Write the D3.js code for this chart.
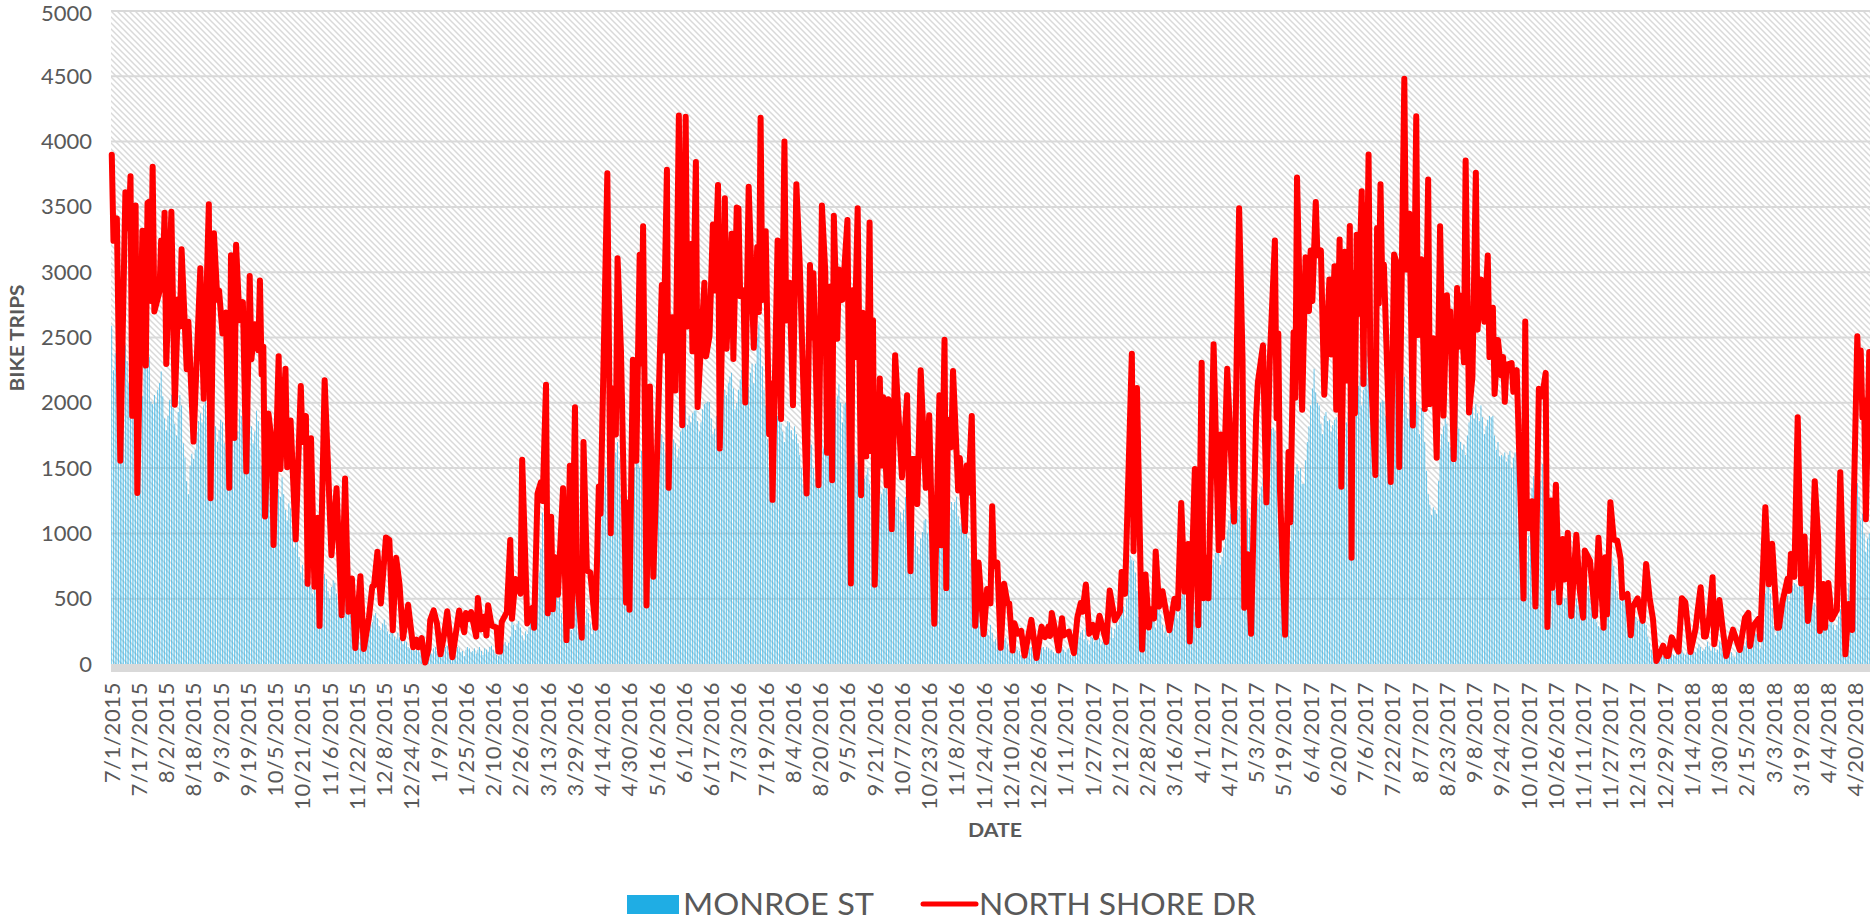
<!DOCTYPE html>
<html lang="en">
<head>
<meta charset="UTF-8">
<title>Bike trips</title>
<script src="https://cdnjs.cloudflare.com/ajax/libs/d3/7.8.5/d3.min.js"></script>
<style>
  html, body { margin: 0; padding: 0; background: #fff; overflow: hidden; }
  text { font-family: Lato, "Noto Sans", sans-serif; fill: #595959; }
</style>
</head>
<body>
<div id="chart"></div>
<script>
// data
const yTicks = [0, 500, 1000, 1500, 2000, 2500, 3000, 3500, 4000, 4500, 5000];
const dayCount = 1033; // 7/1/2015 onward, one slot per day

const dateLabels = ["7/1/2015","7/17/2015","8/2/2015","8/18/2015","9/3/2015","9/19/2015","10/5/2015","10/21/2015","11/6/2015","11/22/2015","12/8/2015","12/24/2015","1/9/2016","1/25/2016","2/10/2016","2/26/2016","3/13/2016","3/29/2016","4/14/2016","4/30/2016","5/16/2016","6/1/2016","6/17/2016","7/3/2016","7/19/2016","8/4/2016","8/20/2016","9/5/2016","9/21/2016","10/7/2016","10/23/2016","11/8/2016","11/24/2016","12/10/2016","12/26/2016","1/11/2017","1/27/2017","2/12/2017","2/28/2017","3/16/2017","4/1/2017","4/17/2017","5/3/2017","5/19/2017","6/4/2017","6/20/2017","7/6/2017","7/22/2017","8/7/2017","8/23/2017","9/8/2017","9/24/2017","10/10/2017","10/26/2017","11/11/2017","11/27/2017","12/13/2017","12/29/2017","1/14/2018","1/30/2018","2/15/2018","3/3/2018","3/19/2018","4/4/2018","4/20/2018"];
const labelDays = [0,16,32,48,64,80,96,112,128,144,160,176,192,208,224,240,256,272,288,304,320,336,352,368,384,400,416,432,448,464,480,496,512,528,544,560,576,592,608,624,640,656,672,688,704,720,736,752,768,784,800,816,832,848,864,880,896,912,928,944,960,976,992,1008,1024];

// Monroe St, one value per day
const monroeTrips = [
2590,2250,2380,2300,2100,1950,2240,2360,2440,2320,2150,2000,2230,2280,2390,2410,2300,2200,2050,2310,
2450,2600,2350,2010,1990,2060,2000,2100,2150,2240,2050,1880,1790,1900,2020,2060,1960,1840,1750,1930,
2060,1980,1690,1580,1400,1300,1520,1610,1570,1640,1780,1860,1920,1850,1980,2020,1900,1760,1840,1870,
1930,1820,1700,1790,1870,1850,1690,1640,1780,1890,1940,2030,1890,1720,1780,1950,1900,1830,1700,1760,
1880,1950,1820,1690,1780,1940,1860,1640,1520,1600,1430,1380,1500,1470,1350,1260,1390,1420,1340,1280,
1430,1300,1180,1100,1230,1190,1050,890,980,940,820,700,760,650,640,720,680,600,540,620,
680,640,590,530,600,690,650,560,500,590,640,620,540,480,560,690,600,520,450,480,
530,460,400,370,440,470,410,360,300,340,380,400,360,320,370,390,350,290,260,310,
340,300,250,230,280,260,210,190,240,205,180,150,190,170,130,120,150,140,100,110,
130,90,70,60,100,120,140,110,80,120,130,100,70,50,90,110,130,140,90,70,
50,80,110,130,120,90,100,60,110,130,120,90,100,120,80,110,130,100,70,120,
110,90,130,140,110,80,70,60,90,130,150,170,140,160,210,340,300,260,310,330,
280,220,180,250,230,280,320,290,340,430,520,700,880,1160,950,640,480,510,590,610,
440,520,480,620,390,300,210,340,450,380,260,400,620,480,540,560,450,220,300,420,
390,310,230,480,620,780,900,1050,1220,1350,1500,1620,1400,1060,1300,1500,1620,1700,1560,1300,
1180,920,760,700,880,1100,1340,1500,1650,1580,1500,1630,1480,850,960,1200,1350,1280,1060,1300,
1450,1600,1810,1760,1700,1620,1500,1380,1560,1650,1720,1690,1580,1650,1780,1900,1960,1980,1830,1900,
1850,1920,1940,1940,1860,1780,1850,1950,1990,2000,2010,2005,1880,1760,1800,1900,1960,1720,1800,2030,
2100,2060,2150,2200,2230,2110,1950,2000,2100,2180,2250,2200,2060,2000,2120,2230,2300,2150,2300,2500,
2600,2420,2280,2100,1980,1720,1500,1320,1600,1780,1860,1900,1950,1840,1780,1700,1820,1860,1850,1790,
1720,1820,1760,1690,1600,1500,1380,1420,1560,1650,1720,1680,1500,1420,1580,1700,1800,1720,1650,1700,
1800,1880,1900,1780,1830,1960,2050,2140,2000,1850,1990,2000,1860,1700,1780,1500,1600,1540,1490,1510,
1510,1380,1420,1450,1500,1380,1290,1220,1340,1400,1430,1360,1300,1340,1410,1370,1240,1360,1280,1180,
1200,1260,1280,1160,1090,1180,1280,1190,1060,1100,1020,980,1020,900,840,960,1010,1100,1110,1000,
1110,1020,860,900,1030,1140,1200,1300,1390,1320,1200,1280,1395,1240,1180,1240,1280,1130,1060,1100,
1140,1000,1130,960,800,860,760,640,520,590,430,340,280,310,250,220,300,240,170,190,
230,210,130,120,180,200,150,100,90,120,160,130,110,100,70,60,100,130,140,120,
130,90,60,50,80,100,120,130,110,130,120,100,110,90,80,120,140,100,130,110,
90,110,120,70,60,100,130,170,200,240,260,190,280,180,150,210,200,170,250,260,
200,150,170,240,200,280,340,280,200,270,320,300,360,480,440,350,500,640,830,800,
790,700,560,360,240,170,260,400,300,250,370,420,330,280,420,440,380,300,240,280,
210,250,340,400,440,430,350,400,500,540,570,480,350,200,410,520,400,320,500,610,
620,560,600,610,520,640,760,800,850,880,900,760,820,890,960,1030,1100,1150,1190,1280,
1290,1180,1210,900,870,1000,1100,1190,1120,800,950,1080,1180,1260,1300,1360,1420,1470,1470,1620,
1740,1800,1810,1780,1550,1390,1210,1120,1000,880,900,930,940,1100,1300,1450,1530,1480,1500,1380,
1380,1560,1700,1820,1980,2110,2260,2080,2000,1980,1840,1760,1900,1930,1860,1870,1780,1830,1870,1890,
1720,1800,1860,1680,1760,1850,1930,1820,1900,1950,1960,2050,2130,2210,1980,2100,2280,2400,2440,2300,
2180,1960,2030,2120,1880,2000,2020,2010,1900,1780,1950,2080,2160,2240,2260,1980,1820,2100,2260,2200,
2000,1880,1950,2050,1980,1960,2010,1980,1760,1960,1950,1700,1480,1300,1220,1140,1200,1180,1150,1400,
1650,1760,1820,1900,1840,1700,1660,1800,1890,1990,1990,1800,1700,1640,1680,1600,1750,1850,1920,1960,
1880,1990,1920,1860,1980,1890,1760,1820,1870,1900,1890,1900,1750,1640,1700,1590,1600,1590,1620,1550,
1600,1630,1500,1580,1620,1625,1500,1260,1000,820,780,780,980,1200,1350,1440,1500,1530,1530,1400,
1530,1360,1200,1000,860,700,600,570,570,620,540,480,510,500,505,560,610,620,600,540,
500,450,620,700,740,745,680,600,500,440,480,400,320,290,280,290,400,560,640,780,
820,800,750,640,560,490,480,490,510,470,400,380,420,450,400,360,330,340,360,360,
340,300,210,160,110,80,60,50,40,70,90,60,50,80,110,130,100,70,60,90,
120,140,110,80,70,90,120,160,140,110,90,120,150,130,100,110,130,170,140,100,
130,120,90,110,170,160,90,60,80,110,130,90,60,50,90,130,160,190,170,140,
180,200,150,170,210,235,230,170,120,290,420,540,600,615,540,430,290,220,260,340,
460,500,540,530,520,480,560,600,620,610,590,600,650,665,560,400,330,370,420,450,
470,440,300,260,310,360,350,280,300,330,340,300,260,300,360,420,350,210,180,380,
620,880,1050,1200,1300,1385,1280,1100,1150,1000,860,960,1000
];

// North Shore Dr, the peaks and troughs that could be read
const northShoreDays = [
0,1,3,5,8,10,11,12,14,15,18,20,21,22,23,24,25,28,29,30,
31,32,35,37,39,40,41,44,45,48,52,54,57,58,60,62,63,65,67,69,
70,72,73,75,77,79,81,82,84,86,87,88,89,90,92,94,95,98,99,102,
103,105,108,111,112,114,115,117,119,121,122,125,129,132,135,137,139,141,143,146,
148,151,153,154,156,158,161,163,165,167,169,171,174,177,179,180,182,184,186,187,
189,191,193,195,197,200,204,207,208,209,211,214,215,217,219,220,221,223,226,227,
228,229,232,234,235,237,240,241,244,247,248,250,252,253,255,256,258,259,260,262,
265,267,269,270,272,273,276,277,279,281,284,286,287,291,293,294,296,297,299,302,
303,304,306,308,310,311,312,314,316,318,320,323,324,326,327,329,331,333,335,337,
338,340,341,343,344,348,349,351,353,354,356,357,360,361,364,365,367,368,369,371,
372,374,377,379,380,381,382,384,386,387,388,391,393,395,396,398,400,402,404,408,
410,411,412,413,415,417,419,420,422,423,424,426,427,429,432,434,435,436,438,440,
441,443,445,446,447,448,451,452,453,455,456,458,460,464,467,469,470,472,473,475,
478,480,483,486,487,489,490,491,493,494,497,498,501,502,503,505,507,509,512,514,
516,517,518,520,522,524,526,527,529,530,532,534,536,540,543,546,548,550,551,552,
554,556,558,559,562,565,567,569,570,572,574,576,578,580,584,586,589,592,593,595,
599,600,602,605,607,609,610,612,613,615,617,621,624,626,628,630,632,633,636,638,
640,641,643,644,647,650,651,652,655,659,662,664,665,667,669,672,673,676,678,680,
683,684,685,686,689,691,692,694,695,696,699,701,703,704,705,707,708,710,712,715,
716,718,719,721,722,724,725,727,728,729,730,731,732,734,735,736,737,738,739,742,
743,744,745,746,747,751,753,755,756,759,760,762,764,766,767,769,771,773,774,776,
778,780,782,784,785,786,788,790,791,792,794,795,797,799,801,802,804,806,808,809,
811,812,814,816,817,818,819,822,823,825,829,830,831,833,834,836,838,840,842,843,
845,846,848,850,852,853,855,857,860,862,864,865,868,871,873,876,877,878,880,882,
884,886,887,890,892,893,896,899,901,903,905,907,909,911,913,914,916,920,922,924,
927,930,931,933,935,936,938,940,941,944,946,948,952,956,959,961,962,964,967,968,
971,973,975,978,979,981,984,985,986,988,990,992,994,996,998,1000,1002,1003,1005,1006,
1008,1010,1013,1015,1018,1020,1022,1023,1025,1026,1027,1028,1029,1030,1032
];
const northShoreTrips = [
3900,3240,3412,1556,3612,3336,3735,1900,3510,1310,3317,2285,3530,3540,2780,3808,2700,2850,3243,2970,
3456,2298,3462,1985,2793,2585,3175,2257,2620,1703,3030,2031,3521,1269,3298,2790,2861,2530,2692,1349,
3129,1731,3210,2632,2771,1474,2970,2334,2602,2402,2937,2217,2430,1130,1919,1687,912,2356,1493,2260,
1507,1865,955,2129,1700,1900,614,1728,592,1119,292,2173,833,1346,374,1420,401,655,123,672,
115,355,595,600,860,464,969,950,259,813,606,197,453,128,186,128,199,11,115,336,
410,306,74,213,404,52,410,243,390,341,398,210,505,265,363,218,450,295,278,95,
95,322,398,950,347,650,538,1564,311,431,278,1305,1392,1248,2138,388,1128,420,819,530,
1346,183,1518,292,1966,674,202,1700,715,700,278,1360,1150,3757,1002,2110,1758,3107,2400,470,
1237,415,2329,1556,3134,2300,3352,448,2124,669,1500,2902,2400,3784,1349,2656,2094,4200,1829,4190,
2585,3216,2394,3844,1968,2920,2356,2514,3366,2860,3668,1651,3567,2414,3294,2336,3495,3490,2817,2860,
2002,3654,2422,3193,2696,4183,2788,3314,1760,2150,1257,3242,1876,4000,2630,2920,1982,3674,3055,1306,
3055,2500,2992,2510,1369,3510,3000,1617,2891,1407,3432,2491,3021,2788,3400,616,2862,2350,3490,1292,
2690,1590,3380,1630,2632,607,2186,1519,2043,1369,2028,1033,2365,1430,2057,710,1570,1570,1225,2250,
1349,1905,308,2057,909,2483,581,1870,1660,2244,1329,1577,1018,1520,1310,1899,293,777,227,575,
464,1207,748,776,124,614,464,464,103,312,232,253,64,338,46,286,206,286,214,390,
258,103,351,219,248,83,356,467,400,609,232,300,206,369,168,562,335,400,704,537,
2376,864,2113,111,686,279,420,348,862,440,557,258,500,426,1233,555,918,173,1494,297,
2307,503,815,503,2448,872,1757,968,2260,1091,3490,2330,431,841,232,1899,2157,2440,1238,2330,
3242,1881,2531,1328,224,1624,1086,2540,2038,3726,1947,3115,2703,3166,2780,3538,3130,3166,2062,2945,
2370,3045,1947,3251,1358,3157,2170,3354,813,2990,1920,3287,2680,3620,2144,3514,2840,3901,2370,1448,
3338,2760,3674,2930,3060,1394,3136,3050,1509,4482,3020,3447,1826,4194,2520,3100,1953,3710,1990,2495,
1579,3351,1902,2824,2535,2700,1569,2879,2430,2820,2310,3856,1926,2200,3762,2560,2945,2620,3127,2350,
2728,2068,2480,2210,2350,2008,2290,2304,2084,2250,502,2622,1040,1040,1246,441,2108,2050,2229,284,
1252,584,1373,472,958,647,1004,368,989,567,355,869,792,368,966,278,817,380,1239,953,
945,805,508,536,220,434,503,330,766,508,345,23,77,140,61,61,204,95,503,473,
92,268,383,588,210,210,358,664,151,490,266,61,263,107,353,391,138,294,345,189,
1201,611,920,278,278,473,652,560,843,667,1890,616,976,330,585,1400,970,253,613,278,
621,342,414,1469,74,460,260,1290,2509,2100,2400,1888,2020,1109,2389
];

const width = 1870, height = 923;
const plotLeft = 111, plotRight = 1870, plotTop = 11, plotBottom = 664;

const svg = d3.select("#chart").append("svg")
  .attr("width", width)
  .attr("height", height)
  .style("display", "block");

// diagonal hatching behind the plot
const pat = svg.append("defs").append("pattern")
  .attr("id", "hatch")
  .attr("width", 6)
  .attr("height", 6)
  .attr("patternUnits", "userSpaceOnUse")
  .attr("x", plotLeft)
  .attr("y", plotTop);
pat.append("path")
  .attr("d", "M-1,-1L7,7M-1,5L1,7M5,-1L7,1")
  .attr("stroke", "#d9d9d9")
  .attr("stroke-width", 1.5)
  .attr("fill", "none");

const x = d3.scaleBand()
  .domain(d3.range(dayCount))
  .range([plotLeft, plotRight])
  .paddingInner(0.6)
  .paddingOuter(0.25);

const y = d3.scaleLinear()
  .domain([0, 5000])
  .range([plotBottom, plotTop]);

svg.append("rect")
  .attr("x", plotLeft).attr("y", plotTop)
  .attr("width", plotRight - plotLeft).attr("height", plotBottom - plotTop)
  .attr("fill", "url(#hatch)");

// gridlines
svg.append("g").selectAll("line")
  .data(yTicks.filter(d => d > 0))
  .join("line")
  .attr("x1", plotLeft).attr("x2", plotRight)
  .attr("y1", d => y(d)).attr("y2", d => y(d))
  .attr("stroke", "#d9d9d9")
  .attr("stroke-width", 2);

// bars
svg.append("g").selectAll("rect")
  .data(monroeTrips)
  .join("rect")
  .attr("x", (d, i) => x(i))
  .attr("width", x.bandwidth())
  .attr("y", d => y(d))
  .attr("height", d => y(0) - y(d))
  .attr("fill", "#1fade4")
  .attr("fill-opacity", 0.9);

// axes
const yAxis = svg.append("g")
  .attr("transform", `translate(${plotLeft},0)`)
  .call(d3.axisLeft(y).tickValues(yTicks).tickFormat(d3.format("d")).tickSize(0).tickPadding(19));
yAxis.select(".domain").remove();
yAxis.selectAll("text")
  .style("font-size", "22px")
  .style("font-family", "Lato, sans-serif")
  .filter(d => d === 5000)
  .attr("y", 2); // keeps the top label clear of the page edge

const xAxis = svg.append("g")
  .attr("transform", `translate(0,${plotBottom + 4})`)
  .call(d3.axisBottom(x)
    .tickValues(labelDays)
    .tickFormat((d, i) => dateLabels[i])
    .tickSize(0));
xAxis.select(".domain")
  .attr("stroke", "#d9d9d9")
  .attr("stroke-width", 8)
  .attr("d", `M${plotLeft},0H${plotRight}`);
xAxis.selectAll("text")
  .style("font-size", "22px")
  .style("font-family", "Lato, sans-serif")
  .style("letter-spacing", "0.6px")
  .attr("text-anchor", "end")
  .attr("transform", "rotate(-90)")
  .attr("x", -14)
  .attr("y", 0)
  .attr("dy", "0.35em");

// red line
const line = d3.line()
  .x(d => x(d) + x.bandwidth() / 2)
  .y((d, i) => y(northShoreTrips[i]));

svg.append("path")
  .attr("d", line(northShoreDays))
  .attr("fill", "none")
  .attr("stroke", "#ff0000")
  .attr("stroke-width", 6)
  .attr("stroke-linejoin", "round")
  .attr("stroke-linecap", "round");

// axis titles
svg.append("text")
  .attr("transform", "translate(24,338) rotate(-90)")
  .attr("text-anchor", "middle")
  .style("font-size", "18px")
  .style("font-weight", "700")
  .attr("textLength", 107)
  .attr("lengthAdjust", "spacingAndGlyphs")
  .text("BIKE TRIPS");

svg.append("text")
  .attr("x", 995).attr("y", 837)
  .attr("text-anchor", "middle")
  .style("font-size", "19px")
  .style("font-weight", "700")
  .attr("textLength", 54)
  .attr("lengthAdjust", "spacingAndGlyphs")
  .text("DATE");

// legend
svg.append("rect")
  .attr("x", 627).attr("y", 895).attr("width", 52).attr("height", 19)
  .attr("fill", "#1fade4");
svg.append("text")
  .attr("x", 683).attr("y", 915)
  .style("font-size", "30px")
  .attr("textLength", 191)
  .attr("lengthAdjust", "spacingAndGlyphs")
  .text("MONROE ST");
svg.append("line")
  .attr("x1", 923).attr("x2", 976).attr("y1", 904).attr("y2", 904)
  .attr("stroke", "#ff0000").attr("stroke-width", 5).attr("stroke-linecap", "round");
svg.append("text")
  .attr("x", 979).attr("y", 915)
  .style("font-size", "30px")
  .attr("textLength", 277)
  .attr("lengthAdjust", "spacingAndGlyphs")
  .text("NORTH SHORE DR");
</script>
</body>
</html>
